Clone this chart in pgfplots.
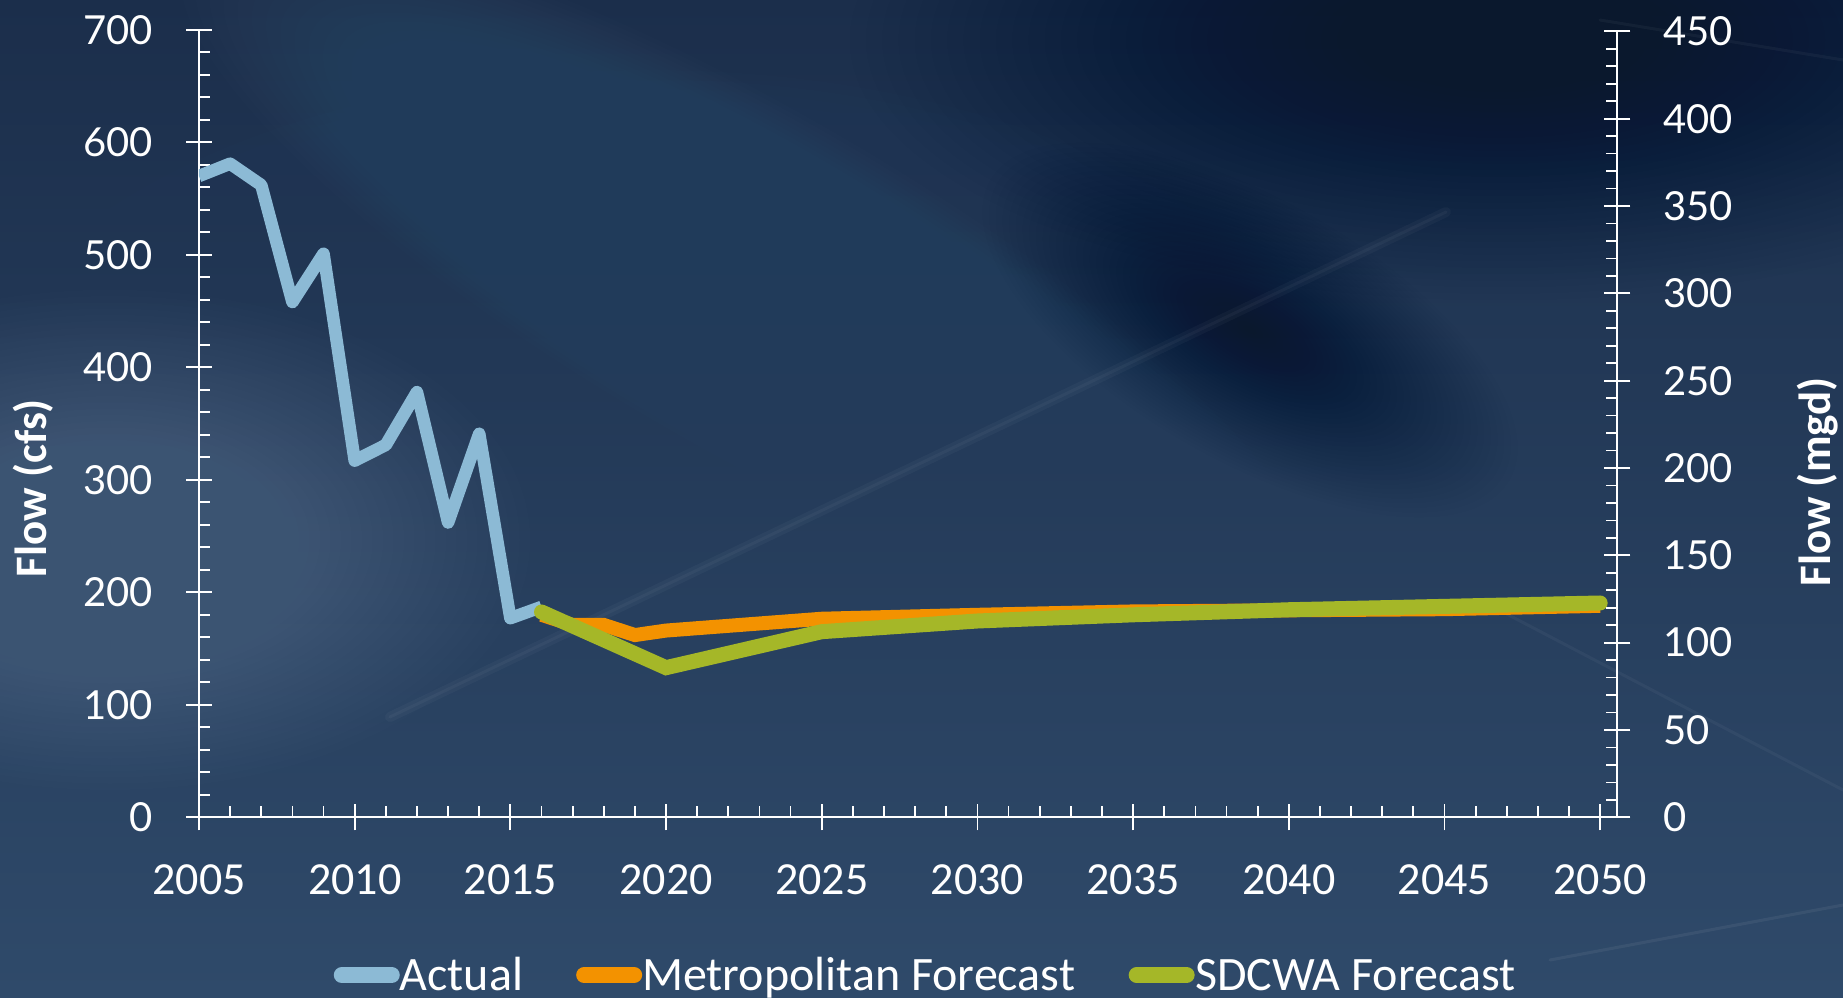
\documentclass[border=0pt]{standalone}
\usepackage{pgfplots}
\pgfplotsset{compat=1.18}
\usepackage{fontspec}
\setmainfont{Carlito}
\newfontfamily\latofont{Lato}

\definecolor{actualblue}{HTML}{8CBAD5}
\definecolor{metroorange}{HTML}{F39200}
\definecolor{sdcwagreen}{HTML}{A5B728}
\definecolor{skytop}{HTML}{1B2E4B}
\definecolor{skybottom}{HTML}{2F4A6A}
\definecolor{skylight}{HTML}{5A7391}
\definecolor{skymid}{HTML}{4A6584}
\definecolor{skydark}{HTML}{0A182D}

% soft patch of sky: centre, radii (picture pixels, y down), colour, opacity, angle
\newcommand{\blob}[7]{%
  \foreach \k in {1,...,40}{%
    \fill[#5, opacity=#6, rotate around={#7:({(#1-199)*1pt},{(817.3-#2)*1pt})}]
      ({(#1-199)*1pt},{(817.3-#2)*1pt})
      ellipse ({#3pt/40*\k} and {#4pt/40*\k});
  }}
\newcommand{\streak}[6]{%
  \draw[white, opacity=#5, line width=#6pt, line cap=round]
    ({(#1-199)*1pt},{(817.3-#2)*1pt}) -- ({(#3-199)*1pt},{(817.3-#4)*1pt});}

\begin{document}
\begin{tikzpicture}
\useasboundingbox (-199pt,-179.7pt) rectangle (1644pt,817.3pt);
\clip (-199pt,-179.7pt) rectangle (1644pt,817.3pt);
\shade[top color=skytop, bottom color=skybottom] (-199pt,-179.7pt) rectangle (1644pt,817.3pt);
\blob{650}{450}{700}{380}{skymid}{0.02}{0}
\blob{750}{280}{650}{170}{skymid}{0.025}{-30}
\blob{110}{540}{420}{250}{skylight}{0.03}{0}
\blob{1500}{40}{650}{260}{skydark}{0.02}{0}
\blob{1250}{330}{300}{130}{skydark}{0.004}{-30}
\blob{1650}{840}{450}{230}{skymid}{0.02}{0}
\streak{390}{717}{1446}{212}{0.03}{10}
\streak{390}{717}{1446}{212}{0.035}{3}
\streak{1480}{600}{1843}{790}{0.04}{3}
\streak{1550}{960}{1843}{905}{0.06}{3}
\streak{1600}{20}{1843}{60}{0.04}{3}

\begin{axis}[
  at={(0pt,0pt)}, anchor=south west,
  scale only axis, width=1418.3pt, height=787.5pt,
  xmin=2005, xmax=2050.55, ymin=0, ymax=700,
  axis x line*=bottom, axis y line*=left,
  axis line style={white, line width=1.75pt},
  xtick={2005,2010,...,2050}, minor x tick num=4,
  ytick={0,100,...,700}, minor y tick num=4,
  tick align=center,
  major tick length=26pt, minor tick length=11pt,
  tick style={white, line width=1.75pt},
  minor x tick style={yshift=5.5pt},
  minor y tick style={xshift=5.5pt},
  /pgf/number format/assume math mode=true,
  /pgf/number format/1000 sep={},
  xticklabel style={font=\fontsize{46}{46}\selectfont, text=white,
    inner sep=0pt, anchor=north, yshift=-34pt},
  yticklabel style={font=\latofont\fontsize{40}{40}\selectfont, text=white,
    inner sep=0pt, anchor=east, xshift=-33pt},
  ylabel={Flow (cfs)},
  every axis y label/.style={at={(axis description cs:-0.1168,0.418)},
    anchor=center, rotate=90, font=\bfseries\fontsize{45}{45}\selectfont, text=white},
  legend style={
    at={(axis description cs:0.5094,-0.2003)}, anchor=center,
    draw=none, fill=none, inner sep=0pt,
    legend columns=-1,
    font=\fontsize{48}{48}\selectfont, text=white,
    nodes={inner sep=0pt, text height=31pt, text depth=0pt, text=white},
    /tikz/every odd column/.append style={column sep=0pt},
    /tikz/every even column/.append style={column sep=46pt},
  },
  legend image code/.code={%
    \path (-8pt,0pt) (51pt,0pt);
    \draw[#1, line cap=round, line width=16pt] (0pt,0pt) -- (50pt,0pt);
  },
]
\addplot[actualblue, line width=12.5pt, line join=round] coordinates {
  (2005,570) (2006,581) (2007,562) (2008,458) (2009,501) (2010,317)
  (2011,331) (2012,378) (2013,262) (2014,341) (2015,177) (2016,187)
};
\addlegendentry{Actual}
\addplot[metroorange, line width=14pt] coordinates {
  (2016,180) (2017,171) (2018,171) (2019,162) (2020,166) (2025,176.5)
  (2030,180) (2035,183) (2040,184) (2045,185) (2050,188)
};
\addlegendentry{Metropolitan Forecast}
\addplot[sdcwagreen, line width=15pt, line cap=round] coordinates {
  (2016,182.5) (2020,133) (2025,165) (2030,174.5) (2035,180)
  (2040,184.5) (2045,187.5) (2050,190.5)
};
\addlegendentry{SDCWA Forecast}
\end{axis}

\begin{axis}[
  at={(0pt,0pt)}, anchor=south west,
  scale only axis, width=1418.3pt, height=787.5pt,
  xmin=2005, xmax=2050.55, ymin=0, ymax=450.9,
  axis x line=none, axis y line*=right,
  axis line style={white, line width=1.75pt},
  ytick={0,50,...,450}, minor y tick num=4,
  tick align=center,
  major tick length=26pt, minor tick length=11pt,
  tick style={white, line width=1.75pt},
  minor y tick style={xshift=-5.5pt},
  /pgf/number format/assume math mode=true,
  yticklabel style={font=\latofont\fontsize{40}{40}\selectfont, text=white,
    inner sep=0pt, anchor=west, xshift=33pt},
  ylabel={Flow (mgd)},
  every axis y label/.style={at={(axis description cs:1.1415,0.4258)},
    anchor=center, rotate=90, font=\bfseries\fontsize{45}{45}\selectfont, text=white},
]
\end{axis}
\end{tikzpicture}
\end{document}
